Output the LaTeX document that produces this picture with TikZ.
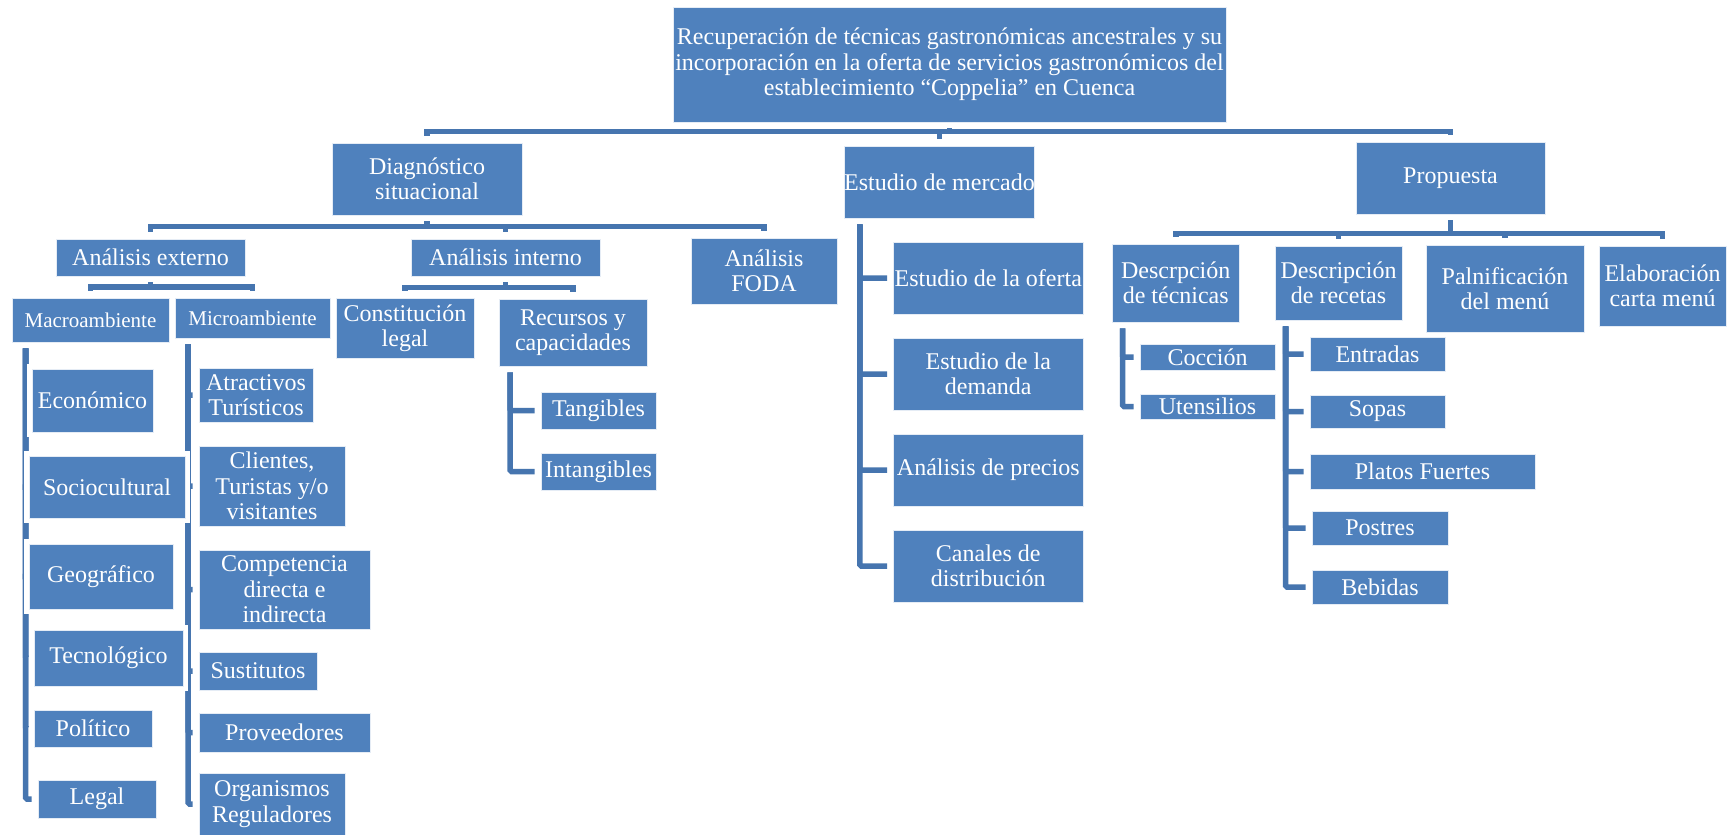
\documentclass[tikz,border=0pt]{standalone}
\usepackage{fontspec}
\setmainfont{Liberation Serif}
\definecolor{boxblue}{HTML}{4F81BD}
\definecolor{lineblue}{HTML}{4675AF}
\pgfdeclarelayer{bgfill}
\pgfdeclarelayer{bg}
\pgfsetlayers{bgfill,bg,main}
\tikzset{
  box/.style={fill=boxblue, draw=white!85!boxblue, line width=0.8pt, text=white, align=center,
    inner sep=0pt, font=\fontsize{24}{25.5}\selectfont},
  smalltext/.style={font=\fontsize{21}{23}\selectfont},
  whiteframe/.style={preaction={draw=white, line width=10pt}},
  hconn/.style={draw=lineblue, line width=5.5pt, shorten <=6pt, shorten >=6.5pt},
  lconn/.style={draw=lineblue, line width=5.5pt, shorten <=6pt, shorten >=6pt, rounded corners=1.5pt},
}
\newcommand{\bx}[7][]{\node[box,#1,minimum width={(#5)-(#3)},minimum height={(#6)-(#4)}] (#2) at ({((#3)+(#5))/2},{((#4)+(#6))/2}) {#7};}
\begin{document}
\begin{tikzpicture}[x=1pt,y=-1pt]
\begin{pgfonlayer}{bgfill}
\fill[white] (0,0) rectangle (1735,835);
\end{pgfonlayer}
\useasboundingbox (0,0) rectangle (1735,835);

% level 0
\bx{root}{673}{7}{1226}{122}{Recuperación de técnicas gastronómicas ancestrales y su\\incorporación en la oferta de servicios gastronómicos del\\establecimiento “Coppelia” en Cuenca}
% level 1
\bx{diag}{332}{143}{522}{215}{Diagnóstico\\situacional}
\bx{em}{845}{146}{1034}{218}{Estudio de mercado}
\bx{prop}{1356}{142}{1545}{214}{Propuesta}
% under diagnostico
\bx{ae}{56}{239}{245}{276}{Análisis externo}
\bx{ai}{411}{239}{600}{276}{Análisis interno}
\bx{foda}{691}{238}{837}{304}{Análisis\\FODA}
\bx[smalltext]{macro}{12}{298}{169}{342}{Macroambiente}
\bx[smalltext]{micro}{175}{298}{330}{338}{Microambiente}
\bx{cl}{336}{298}{474}{358}{Constitución\\legal}
\bx{rc}{499}{299}{647}{366}{Recursos y\\capacidades}
% macro children
\bx[whiteframe]{eco}{32}{369}{153}{432}{Económico}
\bx[whiteframe]{socio}{29}{456}{185}{518}{Sociocultural}
\bx[whiteframe]{geo}{29}{544}{173}{609}{Geográfico}
\bx[whiteframe]{tec}{34}{630}{183}{686}{Tecnológico}
\bx{pol}{34}{710}{152}{747}{Político}
\bx{legal}{38}{780}{156}{818}{Legal}
% micro children
\bx{atr}{199}{368}{313}{422}{Atractivos\\Turísticos}
\bx{cli}{199}{446}{345}{526}{Clientes,\\Turistas y/o\\visitantes}
\bx{comp}{199}{550}{370}{629}{Competencia\\directa e\\indirecta}
\bx{sust}{199}{652}{317}{690}{Sustitutos}
\bx{prov}{199}{713}{370}{752}{Proveedores}
\bx{org}{199}{773}{345}{835}{Organismos\\Reguladores}
% recursos children
\bx{tang}{541}{392}{656}{429}{Tangibles}
\bx{intang}{541}{453}{656}{490}{Intangibles}
% estudio de mercado children
\bx{oferta}{893.5}{242}{1083}{314}{Estudio de la oferta}
\bx{demanda}{893.5}{338}{1083}{410}{Estudio de la\\demanda}
\bx{precios}{893.5}{434}{1083}{506}{Análisis de precios}
\bx{canales}{893.5}{530}{1083}{602}{Canales de\\distribución}
% propuesta children
\bx{dt}{1112}{244}{1239.5}{322}{Descrpción\\de técnicas}
\bx{dr}{1275}{246}{1402}{320}{Descripción\\de recetas}
\bx{pm}{1426}{245}{1584}{332}{Palnificación\\del menú}
\bx{ec}{1599}{246}{1726}{326}{Elaboración\\carta menú}
\bx{coc}{1140}{344}{1275}{370}{Cocción}
\bx{ute}{1140}{394}{1275}{419}{Utensilios}
\bx{ent}{1310}{337}{1445}{371}{Entradas}
\bx{sop}{1310}{395}{1445}{428}{Sopas}
\bx{pla}{1310}{454}{1535}{489}{Platos Fuertes}
\bx{pos}{1312}{511}{1448}{545}{Postres}
\bx{beb}{1312}{570}{1448}{604}{Bebidas}

\begin{pgfonlayer}{bg}
% hierarchy connectors
\foreach \c in {diag,em,prop} \draw[hconn] (root.south) -- ++(0,9) -| (\c.north);
\foreach \c in {ae,ai,foda} \draw[hconn] (diag.south) -- ++(0,11) -| (\c.north);
\foreach \c in {macro,micro} \draw[hconn] (ae.south) -- ++(0,10.5) -| (\c.north);
\foreach \c in {cl,rc} \draw[hconn] (ai.south) -- ++(0,11) -| (\c.north);
\foreach \c in {dt,dr,pm,ec} \draw[hconn] (prop.south) -- ++(0,19) -| (\c.north);
% list connectors
\foreach \c in {eco,socio,geo,tec,pol,legal} \draw[lconn] ([xshift=14pt]macro.south west) |- (\c.west);
\foreach \c in {atr,cli,comp,sust,prov,org} \draw[lconn] ([xshift=13.5pt]micro.south west) |- (\c.west);
\foreach \c in {tang,intang} \draw[lconn] ([xshift=11.5pt]rc.south west) |- (\c.west);
\foreach \c in {oferta,demanda,precios,canales} \draw[lconn] ([xshift=16pt]em.south west) |- (\c.west);
\foreach \c in {coc,ute} \draw[lconn] ([xshift=11pt]dt.south west) |- (\c.west);
\foreach \c in {ent,sop,pla,pos,beb} \draw[lconn] ([xshift=11pt]dr.south west) |- (\c.west);
\end{pgfonlayer}
\end{tikzpicture}
\end{document}
